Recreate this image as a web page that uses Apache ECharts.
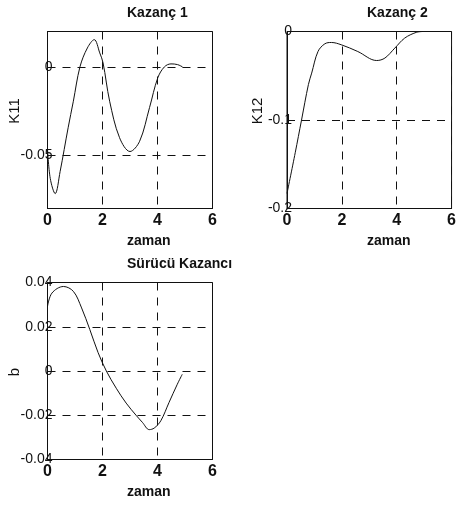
<!DOCTYPE html>
<html>
<head>
<meta charset="utf-8">
<script src="https://cdn.jsdelivr.net/npm/echarts@6/dist/echarts.min.js"></script>
<style>
  html, body { margin: 0; padding: 0; background: #fff; }
  #chart { width: 459px; height: 506px; }
</style>
</head>
<body>
<div id="chart"></div>
<script>
// time samples and values
const t1 = [0, 0.1, 0.28, 0.46, 0.75, 0.94, 1.18, 1.45, 1.7, 1.9, 2.02, 2.26, 2.62, 3.0, 3.35, 3.71, 4.01, 4.25, 4.49, 4.73, 4.91];
const k11 = [-0.046, -0.063, -0.0716, -0.059, -0.0344, -0.0194, 0, 0.0107, 0.0154, 0.0079, 0.0023, -0.0194, -0.040, -0.0478, -0.042, -0.023, -0.0062, 0, 0.0017, 0.0013, 0];

const t2 = [0, 0.3, 0.53, 0.78, 0.9, 1.13, 1.38, 1.62, 1.98, 2.58, 3.27, 3.57, 3.93, 4.29, 4.71, 4.95];
const k12 = [-0.183, -0.137, -0.1, -0.06, -0.047, -0.0226, -0.0139, -0.0124, -0.015, -0.0226, -0.0328, -0.030, -0.0188, -0.0075, -0.001, 0];

const t3 = [0, 0.16, 0.58, 0.94, 1.24, 1.54, 1.84, 2.14, 2.5, 2.86, 3.22, 3.45, 3.7, 3.88, 4.12, 4.42, 4.72, 4.9];
const bVals = [0.0292, 0.0352, 0.0382, 0.036, 0.0285, 0.0187, 0.0083, 0, -0.0078, -0.0145, -0.0200, -0.0232, -0.0265, -0.0258, -0.0225, -0.0142, -0.006, -0.0015];

const titles = ["Kazanç 1", "Kazanç 2", "Sürücü Kazancı"];
const yNames = ["K11", "K12", "b"];
const xName = "zaman";
const k11Ticks = [-0.05, 0];

const font = "'Liberation Sans', Arial, sans-serif";
const ink = "#111";

const zip = (xs, ys) => xs.map((x, i) => [x, ys[i]]);
const fmt = (v) => String(+v.toFixed(3));

const gridBox = (left, top) => ({
  left: left, top: top, width: 165, height: 177,
  show: true, borderColor: ink, borderWidth: 1, backgroundColor: "transparent"
});

const dashed = { show: true, lineStyle: { color: ink, width: 1, type: [8, 7] } };

const xAxisFor = (gi) => ({
  type: "value", gridIndex: gi, min: 0, max: 6, interval: 2,
  axisLine: { show: true, onZero: false, lineStyle: { color: ink } },
  axisTick: { show: false },
  splitLine: dashed,
  axisLabel: { color: ink, fontFamily: font, fontSize: 16, fontWeight: "bold", margin: 4, formatter: fmt }
});

const yLabel = { color: ink, fontFamily: font, fontSize: 14, margin: -5, formatter: fmt };

const line = (xi, data) => ({
  type: "line", xAxisIndex: xi, yAxisIndex: xi, data: data,
  showSymbol: false, smooth: 0.35, silent: true,
  lineStyle: { color: ink, width: 1 }
});

const txt = (x, y, s, font_) => ({
  type: "text", x: x, y: y,
  style: { text: s, fill: ink, font: font_ }
});

const vtxt = (x, y, s) => ({
  type: "text", x: x, y: y, rotation: Math.PI / 2,
  style: { text: s, fill: ink, font: "15px " + font, align: "center", verticalAlign: "middle" }
});

const chart = echarts.init(document.getElementById("chart"), null, { renderer: "canvas" });

chart.setOption({
  animation: false,
  backgroundColor: "#fff",
  grid: [gridBox(47.5, 31.5), gridBox(287, 31.5), gridBox(47.5, 282.5)],
  xAxis: [xAxisFor(0), xAxisFor(1), xAxisFor(2)],
  yAxis: [
    {
      type: "value", gridIndex: 0, min: -0.08, max: 0.02,
      axisLine: { show: true, onZero: false, lineStyle: { color: ink } },
      axisTick: { show: false, customValues: k11Ticks },
      splitLine: dashed,
      axisLabel: Object.assign({ customValues: k11Ticks }, yLabel)
    },
    {
      type: "value", gridIndex: 1, min: -0.2, max: 0, interval: 0.1,
      axisLine: { show: true, onZero: false, lineStyle: { color: ink } },
      axisTick: { show: false },
      splitLine: dashed,
      axisLabel: yLabel
    },
    {
      type: "value", gridIndex: 2, min: -0.04, max: 0.04, interval: 0.02,
      axisLine: { show: true, onZero: false, lineStyle: { color: ink } },
      axisTick: { show: false },
      splitLine: dashed,
      axisLabel: yLabel
    }
  ],
  series: [line(0, zip(t1, k11)), line(1, zip(t2, k12)), line(2, zip(t3, bVals))],
  graphic: [
    txt(127, 6, titles[0], "bold 14px " + font),
    txt(367, 6, titles[1], "bold 14px " + font),
    txt(127, 257, titles[2], "bold 14px " + font),
    txt(127, 234, xName, "bold 14px " + font),
    txt(367, 234, xName, "bold 14px " + font),
    txt(127, 485, xName, "bold 14px " + font),
    vtxt(15, 111, yNames[0]),
    vtxt(258, 111, yNames[1]),
    vtxt(15, 372, yNames[2])
  ]
});
</script>
</body>
</html>
